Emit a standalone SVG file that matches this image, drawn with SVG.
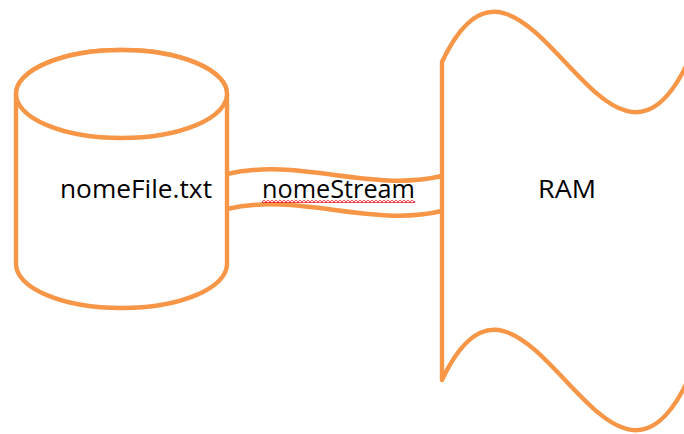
<svg xmlns="http://www.w3.org/2000/svg" width="684" height="434" viewBox="0 0 684 434">
  <defs>
    <style>
      .shape { fill: #ffffff; stroke: #F79646; stroke-width: 4.4; stroke-linejoin: round; stroke-linecap: round; }
      .wire { fill: none; stroke: #F79646; stroke-width: 4.4; stroke-linecap: butt; }
      .label { font-family: "Open Sans", "Liberation Sans", sans-serif; font-size: 25px; fill: #000000; }
    </style>
    <!-- wavy spell-check underline -->
    <pattern id="squiggle" x="0" y="0" width="4" height="3" patternUnits="userSpaceOnUse">
      <path d="M0,2.5 L2,0.5 L4,2.5" fill="none" stroke="#e8202a" stroke-width="1.2"/>
    </pattern>
  </defs>

  <rect width="684" height="434" fill="#ffffff"/>

  <!-- stream between file and memory -->
  <g id="connectors">
    <path class="wire" d="M227,174 C299,157 370,193 442,176"/>
    <path class="wire" d="M227,209 C299,192 370,228 442,211"/>
  </g>

  <g id="stream-label">
    <text class="label" x="262" y="198" textLength="153" lengthAdjust="spacingAndGlyphs">nomeStream</text>
    <rect x="262" y="200" width="153" height="3" fill="url(#squiggle)"/>
  </g>

  <!-- file: cylinder -->
  <g id="file">
    <path class="shape" d="M16,94 L16,264 A105.5,44 0 0 0 227,264 L227,94 A105.5,44 0 0 0 16,94 Z"/>
    <ellipse class="shape" cx="121.5" cy="94" rx="105.5" ry="44"/>
    <text class="label" x="60" y="198" textLength="152" lengthAdjust="spacingAndGlyphs">nomeFile.txt</text>
  </g>

  <!-- memory: wave shape running off the right edge -->
  <g id="ram">
    <path class="shape" d="M442,62 C524,-112 606,236 688,62 L688,380 C606,554 524,206 442,380 Z"/>
    <text class="label" x="538" y="198" textLength="58" lengthAdjust="spacingAndGlyphs">RAM</text>
  </g>
</svg>
